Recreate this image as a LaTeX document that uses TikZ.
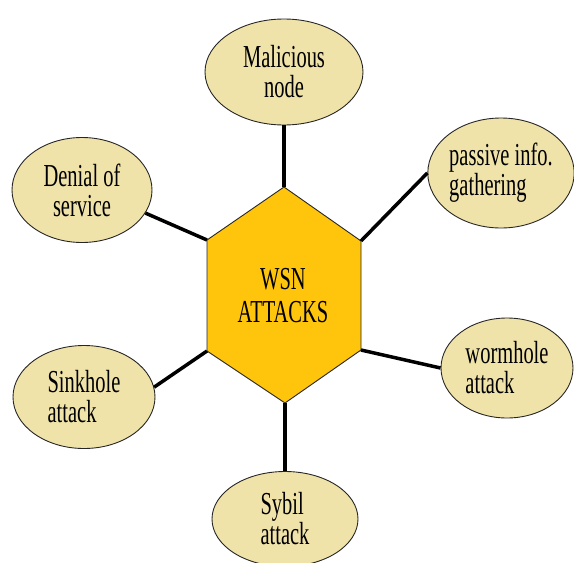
\documentclass[tikz,border=0pt]{standalone}
\usepackage{fontspec}
\setmainfont{Liberation Serif}[FakeStretch=0.64]
\usetikzlibrary{shapes.geometric}
\definecolor{attackfill}{RGB}{240,227,170}
\definecolor{hexfill}{RGB}{255,197,12}

\begin{document}
\begin{tikzpicture}[
        x=1pt, y=-1pt,
        line join=round,
        attack/.style={ellipse, draw=black!85, line width=0.9pt, fill=attackfill,
            inner sep=0pt, font=\fontsize{32}{30}\selectfont},
        hexagon/.style={draw=black!85, line width=0.9pt, fill=hexfill},
        centre label/.style={align=center, font=\fontsize{32}{33}\selectfont},
        link/.style={line width=3.5pt, black},
    ]
    \useasboundingbox (0,0) rectangle (574,563);
    \clip (0,0) rectangle (574,563);

    % The hexagon in the middle.
    \coordinate (hex-t)  at (284,187);
    \coordinate (hex-tr) at (361,241);
    \coordinate (hex-br) at (361,350);
    \coordinate (hex-b)  at (285,403);
    \coordinate (hex-bl) at (207,351);
    \coordinate (hex-tl) at (207,240);
    \path[hexagon] (hex-t) -- (hex-tr) -- (hex-br) -- (hex-b) -- (hex-bl) -- (hex-tl) -- cycle;
    \node[centre label] (wsn) at (283,296) {WSN\\ATTACKS};

    % The six kinds of attack.
    \node[attack, minimum width=158, minimum height=106, align=center] (mal) at (284,72) {Malicious\\node};
    \node[attack, minimum width=137, minimum height=110, align=left] (pas) at (501,173) {passive info.\\gathering};
    \node[attack, minimum width=140, minimum height=105, align=center] (dos) at (82,190) {Denial of\\service};
    \node[attack, minimum width=132, minimum height=100, align=left] (worm) at (507,368) {wormhole\\attack};
    \node[attack, minimum width=142, minimum height=103, align=left] (sink) at (84,397) {Sinkhole\\attack};
    \node[attack, minimum width=146, minimum height=95, align=left] (syb) at (285,519) {Sybil\\attack};

    % Links to the hexagon.
    \draw[link] (mal.south) -- (hex-t);
    \draw[link] (pas.west) -- (hex-tr);
    \draw[link] (dos.-20) -- (hex-tl);
    \draw[link] (worm.west) -- (hex-br);
    \draw[link] (sink.8) -- (hex-bl);
    \draw[link] (syb.north) -- (hex-b);
\end{tikzpicture}
\end{document}
